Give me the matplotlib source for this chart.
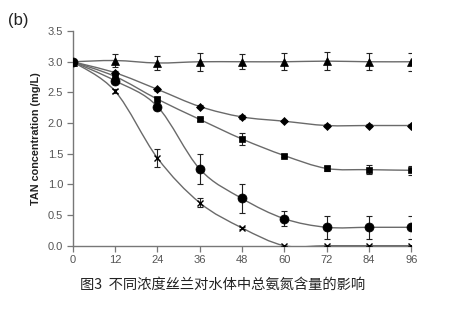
import matplotlib
matplotlib.use("Agg")
import matplotlib.pyplot as plt
from matplotlib.path import Path
from matplotlib.patches import PathPatch
import numpy as np

hours = [0, 12, 24, 36, 48, 60, 72, 84, 96]

tri = [3.00, 3.02, 2.98, 3.00, 3.00, 3.00, 3.01, 3.00, 3.00]
tri_err = [0.0, 0.10, 0.12, 0.15, 0.12, 0.14, 0.15, 0.14, 0.15]

dia = [3.00, 2.82, 2.55, 2.27, 2.10, 2.03, 1.96, 1.96, 1.96]
dia_err = [0.0, 0.03, 0.03, 0.03, 0.03, 0.02, 0.02, 0.02, 0.02]

sq = [3.00, 2.76, 2.39, 2.06, 1.74, 1.47, 1.26, 1.24, 1.23]
sq_err = [0.0, 0.04, 0.04, 0.03, 0.09, 0.03, 0.04, 0.07, 0.07]

cir = [3.00, 2.69, 2.27, 1.25, 0.77, 0.44, 0.30, 0.30, 0.30]
cir_err = [0.0, 0.04, 0.05, 0.24, 0.24, 0.12, 0.19, 0.19, 0.19]

xs = [3.00, 2.52, 1.43, 0.70, 0.29, 0.00, 0.00, 0.00, 0.00]
xs_err = [0.0, 0.03, 0.14, 0.07, 0.02, 0.0, 0.0, 0.0, 0.0]

x_ticks = [0, 12, 24, 36, 48, 60, 72, 84, 96]
y_ticks = [0.0, 0.5, 1.0, 1.5, 2.0, 2.5, 3.0, 3.5]
ylabel = "TAN concentration (mg/L)"
panel = "(b)"
caption = "图3  不同浓度丝兰对水体中总氨氮含量的影响"

plt.rcParams['font.family'] = ['Liberation Sans', 'DejaVu Sans']

fig = plt.figure(figsize=(4.61, 3.11), dpi=100)
ax = fig.add_axes([0.158, 0.21, 0.734, 0.690])


def smooth_path(x, y):
    pts = np.column_stack([x, y]).astype(float)
    n = len(pts)
    verts = [pts[0]]
    codes = [Path.MOVETO]
    for i in range(n - 1):
        p0 = pts[i - 1] if i > 0 else pts[i]
        p1 = pts[i]
        p2 = pts[i + 1]
        p3 = pts[i + 2] if i + 2 < n else pts[i + 1]
        c1 = p1 + (p2 - p0) / 6.0
        c2 = p2 - (p3 - p1) / 6.0
        verts += [c1, c2, p2]
        codes += [Path.CURVE4] * 3
    return Path(verts, codes)


line_col = '#6a6a6a'
series = [
    (tri, tri_err, '^', 5.5),
    (dia, dia_err, 'D', 4.5),
    (sq, sq_err, 's', 5.0),
    (cir, cir_err, 'o', 6.5),
    (xs, xs_err, 'x', 4.0),
]
for vals, errs, mk, ms in series:
    ax.add_patch(PathPatch(smooth_path(hours, vals), facecolor='none',
                           edgecolor=line_col, lw=1.0, zorder=2))
    ax.errorbar(hours, vals, yerr=errs, fmt='none', ecolor='#222222',
                elinewidth=0.8, capsize=2, capthick=0.8, zorder=3)
    ax.plot(hours, vals, linestyle='none', marker=mk, ms=ms, color='black',
            mec='black', mew=1.0 if mk == 'x' else 0.5, zorder=4)

ax.set_xlim(0, 96)
ax.set_ylim(0, 3.5)
ax.set_xticks(x_ticks)
ax.set_yticks(y_ticks)
ax.set_xticklabels([str(t) for t in x_ticks])
ax.set_yticklabels([f"{t:.1f}" for t in y_ticks])
for s in ['top', 'right']:
    ax.spines[s].set_visible(False)
for s in ['left', 'bottom']:
    ax.spines[s].set_color('#777777')
    ax.spines[s].set_linewidth(1.0)
ax.tick_params(axis='both', direction='out', length=4, width=0.9,
               colors='#777777', labelcolor='#555555', labelsize=8, pad=3)
ax.set_ylabel(ylabel, fontsize=7.8, fontweight='bold', color='#222222', labelpad=5)

fig.text(0.017, 0.935, panel, fontsize=12, color='#222222', ha='left', va='center')
fig.text(0.174, 0.083, caption, fontsize=10.3, color='#222222', ha='left', va='center',
         family=['Noto Sans CJK SC', 'DejaVu Sans'], fontweight='light')

fig.savefig('out.png', dpi=100)
